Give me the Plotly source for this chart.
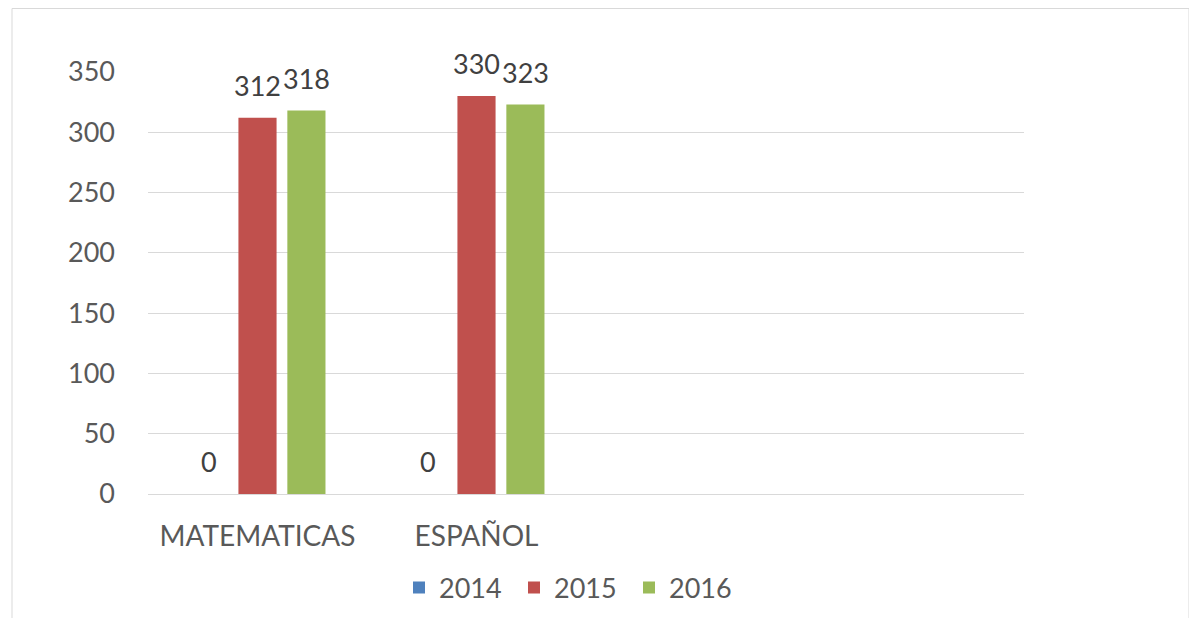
import plotly.graph_objects as go

# --- dane ---
categories = ["MATEMATICAS", "ESPAÑOL"]
years = ["2014", "2015", "2016"]
values_2014 = [0, 0]
values_2015 = [312, 330]
values_2016 = [318, 323]
series_values = [values_2014, values_2015, values_2016]
colors = ["#4F81BD", "#C0504D", "#9BBB59"]

y_ticks = [0, 50, 100, 150, 200, 250, 300, 350]

# --- geometria (strona ma margines body 8px) ---
OFF = 8
W, H = 1197 - OFF, 618 - OFF
m_left, m_top = 148 - OFF, 72 - OFF
m_right = W - (1024 - OFF)
m_bottom = H - (494 - OFF)
n_slots = 4          # wykres Excela ma 4 kategorie (2 puste)
bargap = 0.33
bargroupgap = 0.22

plot_w = W - m_left - m_right
plot_h = H - m_top - m_bottom
slot_px = plot_w / n_slots * (1 - bargap) / len(years)


def px_x(px):
    return (px - OFF - m_left) / plot_w


def px_y(py):
    return (m_top + plot_h - (py - OFF)) / plot_h


FONT = "Lato"
TEXT = "#595959"
LABEL = "#404040"

fig = go.Figure()
for year, vals, col in zip(years, series_values, colors):
    fig.add_trace(go.Bar(
        name=year,
        x=categories,
        y=vals,
        marker=dict(color=col, line=dict(width=0)),
    ))

# etykiety danych nad słupkami
for i, (year, vals) in enumerate(zip(years, series_values)):
    for cat, v in zip(categories, vals):
        fig.add_annotation(
            x=cat, y=v, xref="x", yref="y",
            text=str(v), showarrow=False,
            xshift=(i - 1) * slot_px, yshift=14,
            yanchor="bottom",
            font=dict(family=FONT, size=27, color=LABEL),
        )

# ramka wykresu
fig.add_shape(
    type="rect", xref="paper", yref="paper",
    x0=px_x(12), x1=px_x(1189), y0=px_y(640), y1=px_y(8.5),
    line=dict(color="#D9D9D9", width=1), fillcolor="rgba(0,0,0,0)", layer="below",
)

fig.update_layout(
    width=W, height=H,
    margin=dict(l=m_left, r=m_right, t=m_top, b=m_bottom, autoexpand=False),
    paper_bgcolor="white", plot_bgcolor="white",
    barmode="group", bargap=bargap, bargroupgap=bargroupgap,
    font=dict(family=FONT, color=TEXT),
    showlegend=True,
    legend=dict(
        orientation="h",
        xref="container", x=(399 - OFF) / W, xanchor="left",
        yref="container", y=1 - (588 - OFF) / H, yanchor="middle",
        font=dict(family=FONT, size=27, color=TEXT),
        entrywidth=70, entrywidthmode="pixels",
        traceorder="normal",
    ),
    xaxis=dict(
        type="category", range=[-0.5, n_slots - 0.5],
        showgrid=False, showline=False, ticks="",
        tickfont=dict(family=FONT, size=28, color=TEXT),
        ticklabelstandoff=23, automargin=False,
        fixedrange=True,
    ),
    yaxis=dict(
        range=[0, 350], tickvals=y_ticks,
        showgrid=True, gridcolor="#D9D9D9", gridwidth=1,
        zeroline=True, zerolinecolor="#D9D9D9", zerolinewidth=1,
        showline=False, ticks="",
        tickfont=dict(family=FONT, size=27, color=TEXT),
        ticklabelstandoff=32, automargin=False,
        fixedrange=True,
    ),
)

fig.write_html("out.html")
